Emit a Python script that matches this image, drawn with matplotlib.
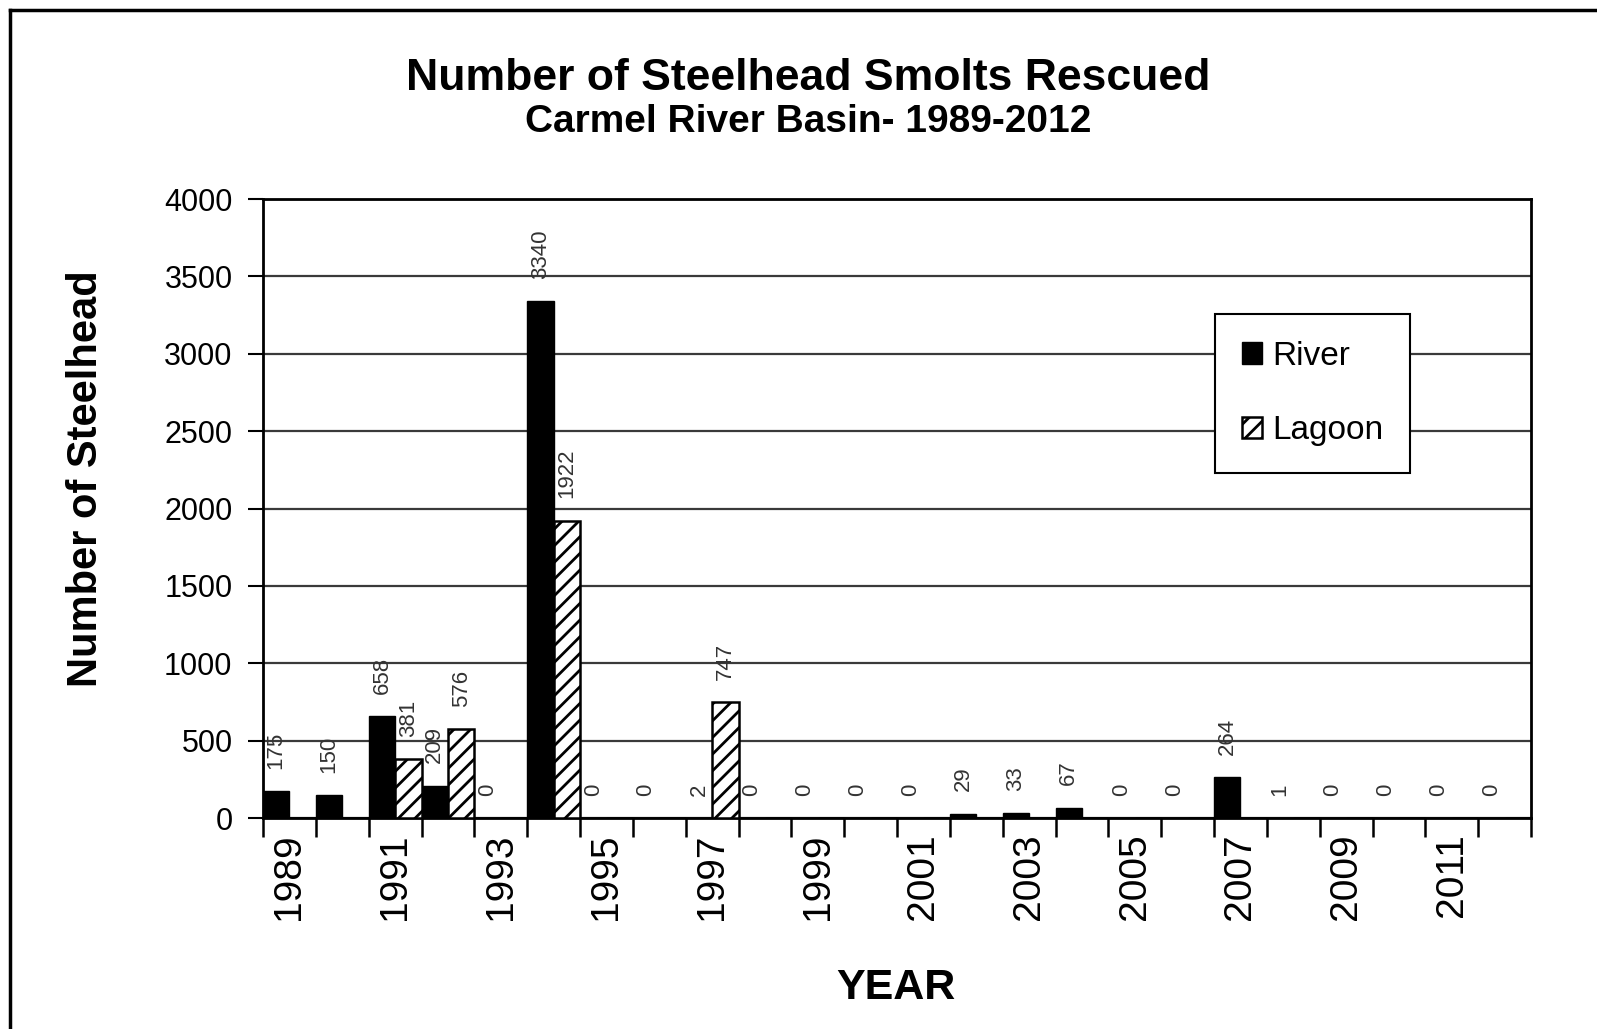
import numpy as np
import matplotlib
matplotlib.use("Agg")
import matplotlib.pyplot as plt
from matplotlib.lines import Line2D

plt.rcParams['font.family'] = ['Liberation Sans', 'DejaVu Sans']
plt.rcParams['hatch.linewidth'] = 2.0

# data
years = list(range(1989, 2013))
river = [175, 150, 658, 209, 0, 3340, 0, 0, 2, 0, 0, 0,
         0, 29, 33, 67, 0, 0, 264, 1, 0, 0, 0, 0]
lagoon = [None, None, 381, 576, None, 1922, None, None, 747, None, None, None,
          None, None, None, None, None, None, None, None, None, None, None, None]
yticks = [0, 500, 1000, 1500, 2000, 2500, 3000, 3500, 4000]


def plot_smolts():
    fig = plt.figure(figsize=(15.97, 10.29), dpi=100)
    ax = fig.add_axes([0.1647, 0.205, 0.794, 0.6016])

    x = np.arange(len(years))
    w = 0.5
    lag_vals = np.array([np.nan if v is None else v for v in lagoon], dtype=float)

    ax.set_axisbelow(True)
    ax.bar(x - w / 2, river, width=w, color='black', edgecolor='black',
           linewidth=1, label='River', zorder=3)
    ax.bar(x + w / 2, np.nan_to_num(lag_vals), width=w, color='white',
           edgecolor='black', hatch='//', linewidth=1.8, label='Lagoon', zorder=3)

    # value labels above the bars
    for xi, v in zip(x, river):
        ax.annotate(str(v), (xi - w / 2, v), xytext=(0, 16), textcoords='offset points',
                    rotation=90, ha='center', va='bottom', fontsize=16, color='#333333')
    for xi, v in zip(x, lagoon):
        if v is None:
            continue
        ax.annotate(str(v), (xi + w / 2, v), xytext=(0, 16), textcoords='offset points',
                    rotation=90, ha='center', va='bottom', fontsize=16, color='#333333')

    ax.set_xlim(-0.5, len(years) - 0.5)
    ax.set_ylim(0, 4000)
    ax.set_yticks(yticks)
    ax.set_yticklabels([str(t) for t in yticks], fontsize=22)
    ax.yaxis.grid(True, color='#3a3a3a', linewidth=1.6)

    # tick marks sit between categories, labels every other year
    ax.set_xticks(np.arange(len(years) + 1) - 0.5)
    ax.set_xticklabels([])
    ax.set_xticks(x[::2], minor=True)
    ax.set_xticklabels([str(y) for y in years[::2]], minor=True, rotation=90, fontsize=28)
    ax.tick_params(axis='x', which='major', length=14, width=1.8, direction='out')
    ax.tick_params(axis='x', which='minor', length=0, pad=11)
    ax.tick_params(axis='y', length=11, width=1.5, pad=11)

    for s in ax.spines.values():
        s.set_linewidth(2)
        s.set_color('black')

    leg = ax.legend(loc='upper left', bbox_to_anchor=(0.751, 0.814), fontsize=24,
                    frameon=True, fancybox=False, edgecolor='black', framealpha=1,
                    handlelength=0.6, handleheight=0.6, handletextpad=0.3,
                    labelspacing=1.3, borderpad=0.8, borderaxespad=0)
    leg.get_frame().set_linewidth(1.5)

    fig.text(0.506, 0.924, 'Number of Steelhead Smolts Rescued', ha='center', va='center',
             fontsize=32, fontweight='bold')
    fig.text(0.506, 0.881, 'Carmel River Basin- 1989-2012', ha='center', va='center',
             fontsize=28, fontweight='bold')
    fig.text(0.054, 0.5345, 'Number of Steelhead', rotation=90, ha='center', va='center',
             fontsize=30, fontweight='bold')
    fig.text(0.561, 0.040, 'YEAR', ha='center', va='center', fontsize=31, fontweight='bold')

    # outer frame (top and left edges only visible in the original)
    fig.add_artist(Line2D([0.0063, 1.0], [0.9903, 0.9903], color='black', linewidth=2.5,
                          transform=fig.transFigure))
    fig.add_artist(Line2D([0.0063, 0.0063], [0.0, 0.9903], color='black', linewidth=2.5,
                          transform=fig.transFigure))

    fig.savefig('out.png', dpi=100)


plot_smolts()
